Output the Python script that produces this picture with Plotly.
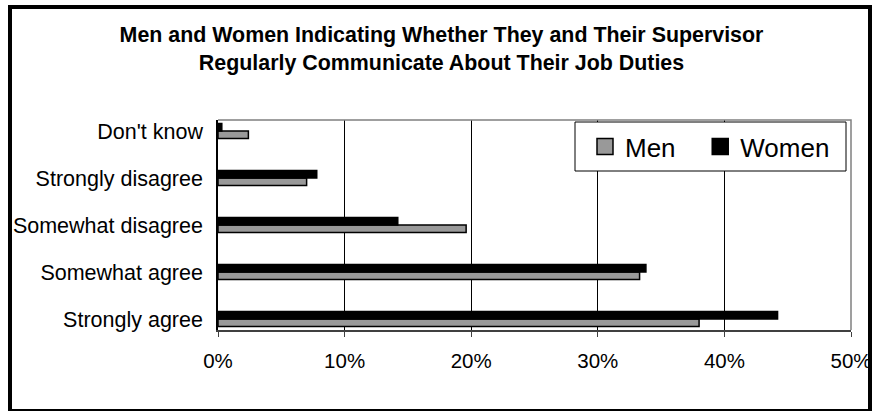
import plotly.graph_objects as go

# ---- data ----
categories = ["Strongly agree", "Somewhat agree", "Somewhat disagree",
              "Strongly disagree", "Don't know"]
men = [38.0, 33.3, 19.6, 7.0, 2.4]
women = [44.2, 33.8, 14.2, 7.8, 0.3]
x_tick_values = [0, 10, 20, 30, 40, 50]
x_tick_labels = ["0%", "10%", "20%", "30%", "40%", "50%"]
title_lines = ["Men and Women Indicating Whether They and Their Supervisor",
               "Regularly Communicate About Their Job Duties"]
series_names = ["Men", "Women"]

# ---- layout geometry (pixels) ----
W, H = 872, 411
ML, MR, MT, MB = 218, 21, 120, 81
PW = W - ML - MR
PH = H - MT - MB


def px_x(p):
    return (p - ML) / PW


def px_y(p):
    return 1 - (p - MT) / PH


FONT = "Liberation Sans, Arial, sans-serif"
GRAY = "#999999"
pad = 0.234
y_range = [-pad, len(categories) - 1 + pad]
y_tick_pos = [y_range[0] + i * (y_range[1] - y_range[0]) / 9 for i in range(10)]

fig = go.Figure()
fig.add_trace(go.Bar(y=categories, x=men, orientation="h", name=series_names[0],
                     marker=dict(color=GRAY, line=dict(color="black", width=1.5)),
                     showlegend=False))
fig.add_trace(go.Bar(y=categories, x=women, orientation="h", name=series_names[1],
                     marker=dict(color="black", line=dict(color="black", width=1.5)),
                     showlegend=False))
# legend proxies (larger square symbols)
NB = "\u00a0"
fig.add_trace(go.Scatter(x=[None], y=[None], mode="markers",
                         name=series_names[0] + NB * 2 + "\u2009",
                         marker=dict(symbol="square", size=16, color=GRAY,
                                     line=dict(color="black", width=1.5))))
fig.add_trace(go.Scatter(x=[None], y=[None], mode="markers", name=series_names[1],
                         marker=dict(symbol="square", size=16, color="black",
                                     line=dict(color="black", width=1.5))))

fig.update_layout(
    width=W, height=H,
    margin=dict(l=ML, r=MR, t=MT, b=MB, pad=0, autoexpand=False),
    paper_bgcolor="white", plot_bgcolor="white",
    font=dict(family=FONT, color="black", size=21),
    barmode="group", bargap=0.68, bargroupgap=0,
    title=dict(text="<b>" + "<br>".join(title_lines) + "</b>",
               font=dict(family=FONT, size=21.4, color="black"),
               x=441.5 / W, xref="container", xanchor="center",
               y=1 - 42 / H, yref="container", yanchor="middle"),
    xaxis=dict(range=[0, 50], tickvals=x_tick_values, ticktext=x_tick_labels,
               showgrid=True, gridcolor="black", gridwidth=1,
               showline=True, linecolor="#404040", linewidth=1.5,
               ticks="outside", ticklen=5, tickcolor="#404040", tickwidth=1,
               tickfont=dict(size=20.5), ticklabelstandoff=7, zeroline=False,
               ticklabeloverflow="allow", automargin=False),
    yaxis=dict(type="category", categoryorder="array", categoryarray=categories,
               range=y_range, showline=True, linecolor="black", linewidth=1.5,
               ticks="", tickfont=dict(size=21.5), ticklabelstandoff=9,
               showgrid=False, zeroline=False, automargin=False),
    yaxis2=dict(overlaying="y", anchor="x", side="left", range=y_range,
                tickvals=y_tick_pos, ticks="outside", ticklen=6, tickcolor="#404040",
                showticklabels=False, showgrid=False, showline=False, zeroline=False,
                automargin=False),
    legend=dict(orientation="h", x=px_x(585), xanchor="left", y=px_y(123), yanchor="top",
                bgcolor="rgba(0,0,0,0)", borderwidth=0,
                font=dict(size=26, family=FONT)),
    shapes=[
        dict(type="path", xref="paper", yref="paper", path="M 0 1 L 1 1 L 1 0",
             line=dict(color="#808080", width=1.5), layer="above"),
        dict(type="rect", xref="paper", yref="paper",
             x0=px_x(575), x1=px_x(846), y0=px_y(171), y1=px_y(122),
             fillcolor="white", line=dict(color="black", width=1), layer="above"),
        dict(type="rect", xref="paper", yref="paper",
             x0=px_x(10), x1=px_x(870), y0=px_y(411), y1=px_y(7),
             line=dict(color="black", width=4), layer="above"),
    ],
)

fig.write_html("out.html")
